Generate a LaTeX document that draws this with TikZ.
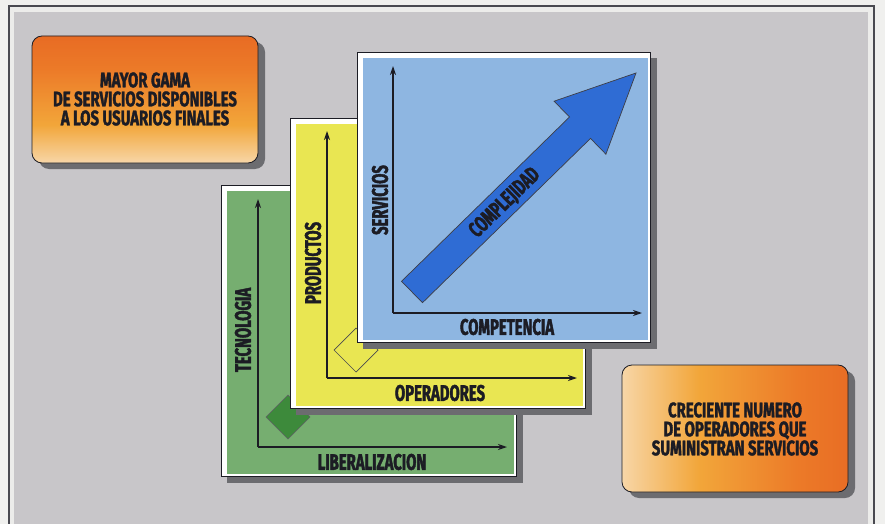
\documentclass[tikz,border=0pt]{standalone}
\usepackage{fontspec}
\usetikzlibrary{arrows.meta}
\newfontfamily\lblfont[FakeStretch=0.66, BoldFeatures={FakeBold=1.8}]{Fira Sans}
\newfontfamily\notefont[FakeStretch=0.71, BoldFeatures={FakeBold=1.6}]{Fira Sans}

\definecolor{paper}{HTML}{F0F0EE}
\definecolor{framefill}{HTML}{ECECEA}
\definecolor{bggray}{HTML}{C8C6C9}
\definecolor{shadowgray}{HTML}{6C6C70}
\definecolor{cardblue}{HTML}{8EB6E1}
\definecolor{arrowblue}{HTML}{2F6CD4}
\definecolor{cardyellow}{HTML}{E9E652}
\definecolor{cardgreen}{HTML}{76AE70}
\definecolor{darkgreen}{HTML}{3D8A3B}
\definecolor{inkdark}{HTML}{1C1C24}
\definecolor{fadewhite}{HTML}{F4F1EC}
\definecolor{fadepeach}{HTML}{F7D3A0}
\definecolor{fadeyellow}{HTML}{F2A63A}
\definecolor{fadeorange}{HTML}{EC7A28}
\definecolor{fadered}{HTML}{E0501C}

% orange fade: white at the bottom, red at the top
\pgfdeclareverticalshading{fadeup}{100bp}{color(0bp)=(fadewhite); color(20bp)=(fadewhite); color(26bp)=(fadepeach); color(40bp)=(fadeyellow); color(62bp)=(fadeorange); color(100bp)=(fadered)}
% orange fade: white at the left, red at the right
\pgfdeclarehorizontalshading{fadeside}{100bp}{color(0bp)=(fadewhite); color(18bp)=(fadewhite); color(26bp)=(fadepeach); color(42bp)=(fadeyellow); color(64bp)=(fadeorange); color(100bp)=(fadered)}

\tikzset{
  axis/.style={line width=2.2pt, draw=inkdark, -{Stealth[length=9pt,width=6pt]}},
  axislabel/.style={font=\lblfont\bfseries\fontsize{22.5}{22.5}\selectfont, text=inkdark, inner sep=0pt},
  boxtext/.style={font=\notefont\bfseries\fontsize{21}{19}\selectfont, text=inkdark, align=center, inner sep=0pt},
  outline/.style={draw=inkdark, line width=0.8pt},
}

% a card with a white rim and a grey bevel on its right and bottom sides
\newcommand\drawcard[5]{%
  \fill[shadowgray] (#1+6,#2+6) rectangle (#3,#4);
  \filldraw[fill=white, outline] (#1,#2) rectangle (#3-7,#4-7);
  \fill[#5] (#1+6,#2+6) rectangle (#3-9,#4-9);
}

\begin{document}
\begin{tikzpicture}[x=1pt,y=-1pt]
\useasboundingbox (0,0) rectangle (885,524);

% page and framed grey panel
\fill[paper] (0,0) rectangle (885,524);
\filldraw[fill=framefill, draw=inkdark!80, line width=1.4pt] (9,6) rectangle (874,540);
\fill[bggray] (14,12) rectangle (868,540);

% upper-left note
\fill[shadowgray, rounded corners=10pt] (39,42) rectangle (265,169);
\shade[shading=fadeup, rounded corners=10pt] (32,36) rectangle (258,163);
\draw[outline, rounded corners=10pt] (32,36) rectangle (258,163);
\node[boxtext] (gama) at (145,99) {MAYOR GAMA\\DE SERVICIOS DISPONIBLES\\A LOS USUARIOS FINALES};

% lower-right note
\fill[shadowgray, rounded corners=10pt] (629,371) rectangle (855,498);
\shade[shading=fadeside, rounded corners=10pt] (622,365) rectangle (848,492);
\draw[outline, rounded corners=10pt] (622,365) rectangle (848,492);
\node[boxtext] (numero) at (735,429) {CRECIENTE NUMERO\\DE OPERADORES QUE\\SUMINISTRAN SERVICIOS};

% green card
\drawcard{221}{185}{523}{483}{cardgreen}
\coordinate (go) at (258,447);
\coordinate (gy) at (258,199);
\coordinate (gx) at (507,447);
\draw[axis] (go) -- (gy);
\draw[axis] (go) -- (gx);
\node[axislabel, rotate=90] (tecno) at (243,330) {TECNOLOGIA};
\node[axislabel] (libera) at (372,462) {LIBERALIZACION};
\filldraw[fill=darkgreen, draw=inkdark!70, line width=0.6pt] (288,395) -- (310,417) -- (288,439) -- (266,417) -- cycle;

% yellow card
\drawcard{290}{118}{592}{415}{cardyellow}
\coordinate (yo) at (327,378);
\coordinate (yy) at (327,131);
\coordinate (yx) at (577,378);
\draw[axis] (yo) -- (yy);
\draw[axis] (yo) -- (yx);
\node[axislabel, rotate=90] (produ) at (313,263) {PRODUCTOS};
\node[axislabel] (opera) at (440,393) {OPERADORES};
\filldraw[fill=cardyellow, draw=inkdark!80, line width=0.7pt] (356,328) -- (378,350) -- (356,372) -- (334,350) -- cycle;

% blue card
\drawcard{357}{52}{657}{349}{cardblue}
\coordinate (bo) at (393,313);
\coordinate (by) at (393,66);
\coordinate (bx) at (642,313);
\draw[axis] (bo) -- (by);
\draw[axis] (bo) -- (bx);
\node[axislabel, rotate=90] (servi) at (380,200) {SERVICIOS};
\node[axislabel] (compe) at (507,327) {COMPETENCIA};

% rising arrow
\filldraw[fill=arrowblue, draw=inkdark!85, line width=0.7pt]
  (401.5,281.3) -- (569.5,117) -- (554.1,101.2) -- (636,73)
  -- (605.9,154.2) -- (590.5,138.4) -- (422.5,302.7) -- cycle;
\node[axislabel, rotate=44.4, font=\lblfont\bfseries\fontsize{22}{22}\selectfont] (compl) at (505,203) {COMPLEJIDAD};
\end{tikzpicture}
\end{document}
